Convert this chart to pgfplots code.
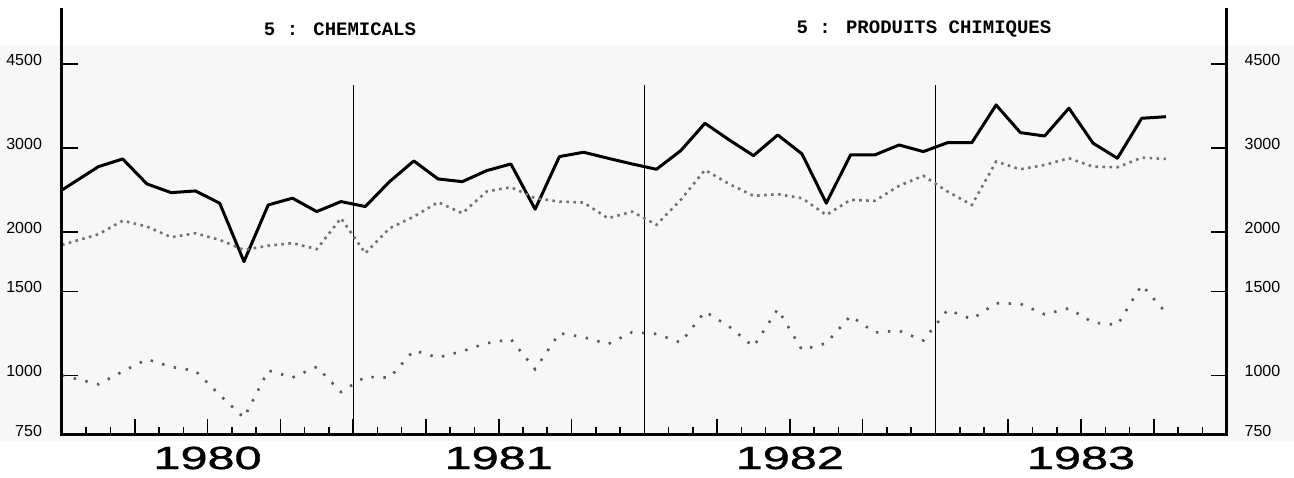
\documentclass[border=0pt]{standalone}
\usepackage{pgfplots}
\pgfplotsset{compat=1.18}
\usepackage{fontspec}
\setmainfont{Liberation Sans}
\newfontfamily\titlefont{Liberation Mono}
\newfontfamily\yearfont{Liberation Sans}[FakeStretch=1.52, FakeBold=1.2]

\begin{document}
\begin{tikzpicture}
\path[use as bounding box] (0,0) rectangle (647pt,238.5pt);
\fill[black!3] (0pt,18pt) rectangle (647pt,216pt);
\begin{axis}[
  at={(31pt,21pt)}, anchor=south west,
  scale only axis, width=582.3pt, height=212.5pt,
  xmin=0, xmax=48, ymode=log, ymin=750, ymax=5840,
  clip=false,
  axis line style={draw=none},
  xtick={0,3,...,48}, xticklabels={}, minor x tick num=2,
  xtick pos=left, ytick pos=both,
  tick align=inside,
  major tick length=8pt, minor tick length=4pt,
  every tick/.style={black, line width=0.8pt},
  yminorticks=false,
  ytick={750,1000,1500,2000,3000,4500},
  yticklabels={750,1000,1500,2000,3000,4500},
  yticklabel style={font=\fontsize{8}{9}\selectfont, xshift=-6.5pt, yshift=2pt},
]
% vertical year separators
\addplot[black, line width=0.6pt] coordinates {(12,750) (12,4070)};
\addplot[black, line width=0.6pt] coordinates {(24,750) (24,4070)};
\addplot[black, line width=0.6pt] coordinates {(36,750) (36,4070)};

% solid series
\addplot[black, line width=1.5pt, line join=round] coordinates {
(0,2448) (1.5,2740) (2.5,2844) (3.5,2521) (4.5,2417) (5.5,2437) (6.5,2297) (7.5,1733)
(8.5,2278) (9.5,2353) (10.5,2206) (11.5,2315) (12.5,2260) (13.5,2549) (14.5,2817)
(15.5,2582) (16.5,2549) (17.5,2688) (18.5,2776) (19.5,2231) (20.5,2877) (21.5,2938)
(22.5,2854) (23.5,2776) (24.5,2706) (25.5,2960) (26.5,3379) (27.5,3118) (28.5,2890)
(29.5,3194) (30.5,2914) (31.5,2297) (32.5,2900) (33.5,2900) (34.5,3043) (35.5,2947)
(36.5,3077) (37.5,3077) (38.5,3692) (39.5,3230) (40.5,3178) (41.5,3634) (42.5,3068)
(43.5,2854) (44.5,3462) (45.5,3488)
};

% middle dotted series
\addplot[black!55, line width=1.3pt, dash pattern=on 1.3pt off 2.2pt] coordinates {
(0,1878) (1.5,1977) (2.5,2111) (3.5,2052) (4.5,1949) (5.5,1987) (6.5,1924) (7.5,1833)
(8.5,1871) (9.5,1894) (10.5,1840) (11.5,2136) (12.5,1804) (13.5,2035) (14.5,2152)
(15.5,2308) (16.5,2188) (17.5,2430) (18.5,2482) (19.5,2353) (20.5,2315) (21.5,2304)
(22.5,2136) (23.5,2205) (24.5,2069) (25.5,2334) (26.5,2697) (27.5,2520) (28.5,2380)
(29.5,2399) (30.5,2353) (31.5,2170) (32.5,2334) (33.5,2323) (34.5,2498) (35.5,2623)
(36.5,2430) (37.5,2278) (38.5,2808) (39.5,2706) (40.5,2763) (41.5,2854) (42.5,2740)
(43.5,2732) (44.5,2862) (45.5,2844)
};

% bottom dotted series
\addplot[black!65, line width=1.3pt, dash pattern=on 1.2pt off 4.8pt] coordinates {
(0,1000) (1.5,958) (2.5,1019) (3.5,1081) (4.5,1042) (5.5,1022) (6.5,910) (7.5,815)
(8.5,1024) (9.5,990) (10.5,1042) (11.5,923) (12.5,993) (13.5,989) (14.5,1128)
(15.5,1090) (16.5,1124) (17.5,1168) (18.5,1191) (19.5,1030) (20.5,1226) (21.5,1203)
(22.5,1163) (23.5,1232) (24.5,1222) (25.5,1172) (26.5,1361) (27.5,1266) (28.5,1149)
(29.5,1377) (30.5,1131) (31.5,1168) (32.5,1333) (33.5,1230) (34.5,1241) (35.5,1183)
(36.5,1372) (37.5,1312) (38.5,1417) (39.5,1413) (40.5,1343) (41.5,1383) (42.5,1290)
(43.5,1276) (44.5,1547) (45.5,1354)
};

% axis lines: left, bottom, right (no top)
\draw[black, line width=1.5pt, line cap=rect] (rel axis cs:0,1) -- (rel axis cs:0,0) -- (rel axis cs:1,0) -- (rel axis cs:1,1);

% right tick labels
\pgfplotsinvokeforeach{750,1000,1500,2000,3000,4500}{
  \node[anchor=west, font=\fontsize{8}{9}\selectfont, xshift=5.5pt, yshift=2pt] at (axis cs:48,#1) {#1};
}
% year labels
\node[font=\yearfont\fontsize{16}{18}\selectfont] at (axis cs:6,750) [yshift=-11.5pt] {1980};
\node[font=\yearfont\fontsize{16}{18}\selectfont] at (axis cs:18,750) [yshift=-11.5pt] {1981};
\node[font=\yearfont\fontsize{16}{18}\selectfont] at (axis cs:30,750) [yshift=-11.5pt] {1982};
\node[font=\yearfont\fontsize{16}{18}\selectfont] at (axis cs:42,750) [yshift=-11.5pt] {1983};
\end{axis}
\node[font=\titlefont\bfseries\fontsize{9.5}{11}\selectfont] at (170pt,224pt) {5 : CHEMICALS};
\node[font=\titlefont\bfseries\fontsize{9.5}{11}\selectfont] at (462pt,224pt) {5 : PRODUITS CHIMIQUES};
\end{tikzpicture}
\end{document}
